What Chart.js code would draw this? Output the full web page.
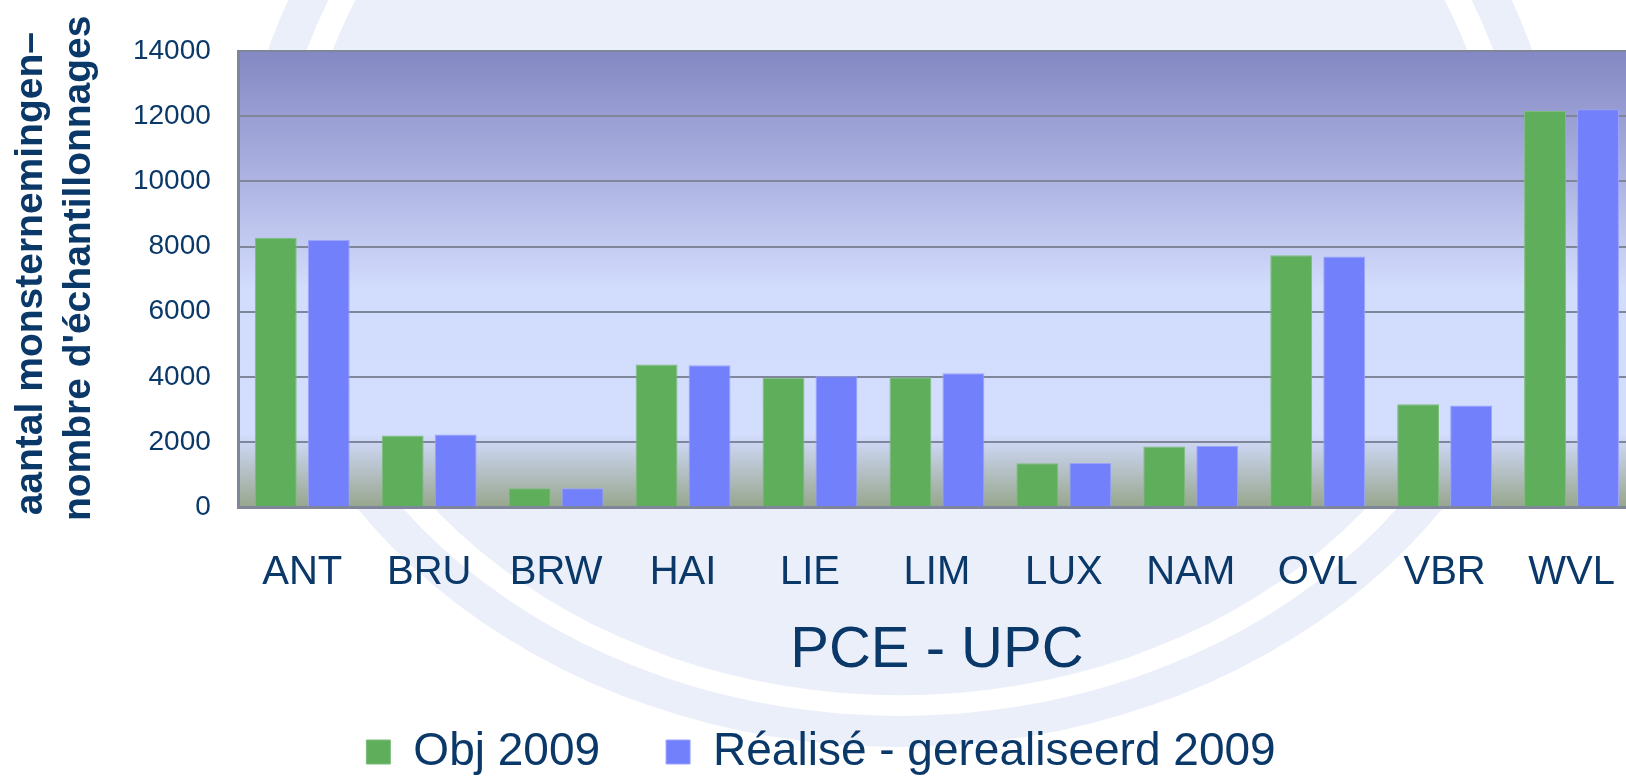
<!DOCTYPE html>
<html>
<head>
<meta charset="utf-8">
<script src="https://cdn.jsdelivr.net/npm/chart.js@4.4.1/dist/chart.umd.min.js"></script>
<style>
html, body { margin: 0; padding: 0; background: #fff; overflow: hidden; width: 1626px; height: 777px; }
#wrap { position: absolute; left: 0; top: 0; width: 1659px; height: 785px; }
</style>
</head>
<body>
<div id="wrap"><canvas id="grafico" width="1659" height="785"></canvas></div>
<script>
// ===== DADOS =====
const categorias = ["ANT", "BRU", "BRW", "HAI", "LIE", "LIM", "LUX", "NAM", "OVL", "VBR", "WVL"];
const obj2009 = [8270, 2200, 580, 4380, 3970, 3990, 1350, 1860, 7730, 3160, 12160];
const realise2009 = [8200, 2230, 580, 4360, 4020, 4110, 1360, 1880, 7690, 3120, 12210];
const yMin = 0;
const yMax = 14000;
const yStep = 2000;

// espacos no inicio: sobem o texto girado para ficar como no original
const tituloY = [" aantal monsternemingen\u2013", "  nombre d'\u00e9chantillonnages"];
const tituloX = "PCE - UPC";
const legendas = ["Obj 2009", "R\u00e9alis\u00e9 - gerealiseerd 2009"];

const azulTexto = "#0a3868";
Chart.defaults.font.family = "'Liberation Sans', Arial, sans-serif";
Chart.defaults.color = azulTexto;

// ===== FUNDO (marca d'agua + degrade da area do grafico) =====
function elipse(ctx, escala, sentido) {
    ctx.ellipse(900, 200, 620 * escala, 516 * escala, 0, 0, Math.PI * 2, sentido);
}

const fundo = {
    id: "fundo",
    beforeDraw(chart) {
        const ctx = chart.ctx;
        const area = chart.chartArea;
        ctx.save();

        // marca d'agua clara atras de tudo
        ctx.fillStyle = "rgba(170, 190, 230, 0.24)";
        ctx.beginPath();
        elipse(ctx, 1.06, false);
        elipse(ctx, 1.0, true);
        ctx.fill();
        ctx.beginPath();
        elipse(ctx, 0.96, false);
        ctx.fill();

        const g = ctx.createLinearGradient(0, area.top, 0, area.bottom);
        g.addColorStop(0, "#8488c3");
        g.addColorStop(0.3, "#b0b6e4");
        g.addColorStop(0.52, "#d2dcfc");
        g.addColorStop(0.84, "#d3ddfd");
        g.addColorStop(0.87, "#c8d2ea");
        g.addColorStop(1, "#97a68d");
        ctx.fillStyle = g;
        ctx.fillRect(area.left, area.top, area.right - area.left, area.bottom - area.top);
        ctx.restore();
    }
};

// ===== GRAFICO =====
const ctx = document.getElementById("grafico").getContext("2d");

window.grafico = new Chart(ctx, {
    type: "bar",
    data: {
        labels: categorias,
        datasets: [
            {
                label: legendas[0],
                data: obj2009,
                backgroundColor: "#5eae5c",
                borderColor: "#7dbd7b",
                borderWidth: 1,
                categoryPercentage: 0.835,
                barPercentage: 0.79
            },
            {
                label: legendas[1],
                data: realise2009,
                backgroundColor: "#7380fc",
                borderColor: "#9aa4fb",
                borderWidth: 1,
                categoryPercentage: 0.835,
                barPercentage: 0.79
            }
        ]
    },
    options: {
        responsive: false,
        animation: false,
        devicePixelRatio: 1,
        layout: {
            padding: { left: 7, right: 24, top: 51, bottom: 0 }
        },
        plugins: {
            tooltip: { enabled: false },
            legend: {
                display: true,
                position: "bottom",
                labels: {
                    boxWidth: 24,
                    boxHeight: 24,
                    padding: 66,
                    color: azulTexto,
                    font: { size: 46 }
                }
            }
        },
        scales: {
            x: {
                grid: { display: false, drawTicks: false },
                border: { display: true, color: "#80869a", width: 3 },
                ticks: {
                    padding: 42,
                    color: azulTexto,
                    font: { size: 40 },
                    maxRotation: 0,
                    autoSkip: false
                },
                title: {
                    display: true,
                    text: tituloX,
                    color: azulTexto,
                    font: { size: 58, lineHeight: 0.6 },
                    padding: { top: -6, bottom: -5 }
                }
            },
            y: {
                min: yMin,
                max: yMax,
                grid: { color: "#80869a", lineWidth: 2, drawTicks: false },
                border: { display: true, color: "#80869a", width: 3 },
                ticks: {
                    stepSize: yStep,
                    padding: 28,
                    color: azulTexto,
                    font: { size: 28 },
                    callback: (v) => String(v)
                },
                title: {
                    display: true,
                    text: tituloY,
                    color: azulTexto,
                    font: { size: 39, weight: "bold", lineHeight: 1.23 },
                    padding: { top: 0, bottom: 2 }
                }
            }
        }
    },
    plugins: [fundo]
});
</script>
</body>
</html>
